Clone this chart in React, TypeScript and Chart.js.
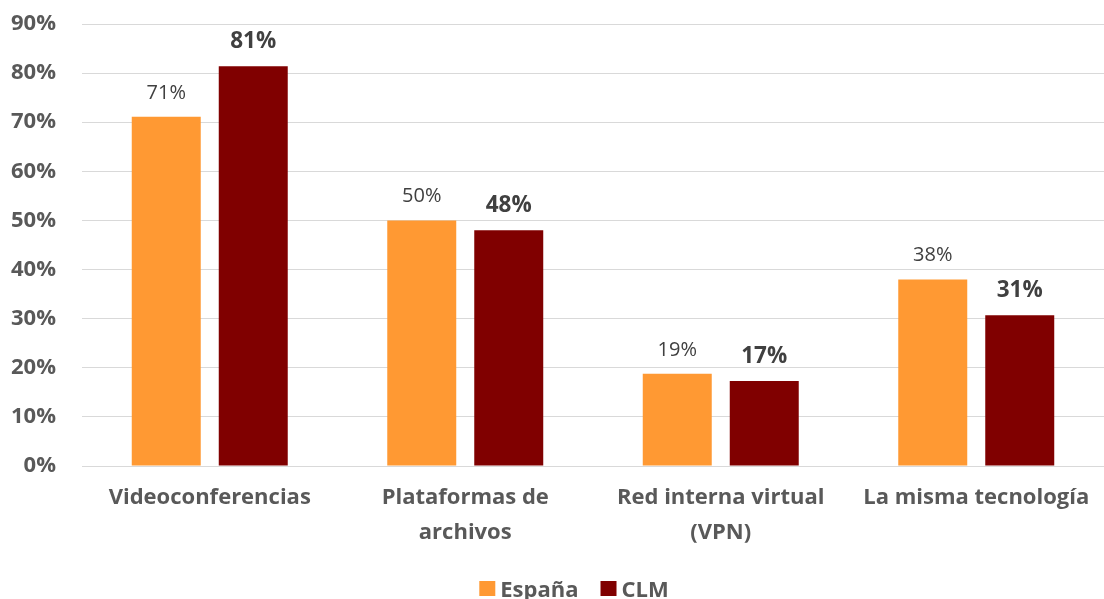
import React, { useEffect, useRef } from "react";
import { Chart, registerables } from "chart.js";

Chart.register(...registerables);

const categories: (string | string[])[] = [
  "Videoconferencias",
  ["Plataformas de", "archivos"],
  ["Red interna virtual", "(VPN)"],
  "La misma tecnología",
];
const espana = [71.1, 50.0, 18.8, 38.0];
const clm = [81.4, 48.0, 17.3, 30.7];
const seriesNames = ["España", "CLM"];
const seriesColors = ["#FF9933", "#800000"];
const yTicks = [0, 10, 20, 30, 40, 50, 60, 70, 80, 90];

const FONT = "'Open Sans', Lato, sans-serif";
const TEXT = "#595959";

const labelPlugin = {
  id: "valueLabels",
  afterDatasetsDraw(chart: any) {
    const ctx = chart.ctx;
    ctx.save();
    ctx.textAlign = "center";
    ctx.textBaseline = "alphabetic";
    ctx.fillStyle = "#404040";
    chart.data.datasets.forEach((ds: any, di: number) => {
      const meta = chart.getDatasetMeta(di);
      ctx.font = di === 1 ? `bold 22.5px ${FONT}` : `20px ${FONT}`;
      meta.data.forEach((bar: any, i: number) => {
        const v = ds.data[i];
        ctx.fillText(`${Math.round(v)}%`, bar.x, bar.y - 18);
      });
    });
    ctx.restore();
  },
};

const legendPlugin = {
  id: "customLegend",
  afterDraw(chart: any) {
    const ctx = chart.ctx;
    ctx.save();
    ctx.font = `bold 22px ${FONT}`;
    ctx.textBaseline = "alphabetic";
    const box = 16;
    const gapBoxText = 5;
    const gapItems = 22;
    const widths = seriesNames.map((n) => box + gapBoxText + ctx.measureText(n).width);
    const total = widths.reduce((a, b) => a + b, 0) + gapItems * (widths.length - 1);
    const cx = (chart.chartArea.left + chart.chartArea.right) / 2 - 19;
    let x = cx - total / 2;
    const baseline = chart.height - 2;
    seriesNames.forEach((n, i) => {
      ctx.fillStyle = seriesColors[i];
      ctx.fillRect(x, baseline - 16, box, 15);
      ctx.fillStyle = TEXT;
      ctx.fillText(n, x + box + gapBoxText, baseline);
      x += widths[i] + gapItems;
    });
    ctx.restore();
  },
};

export default function App() {
  const ref = useRef<HTMLCanvasElement>(null);
  useEffect(() => {
    if (!ref.current) return;
    const chart = new Chart(ref.current, {
      type: "bar",
      data: {
        labels: categories,
        datasets: [
          {
            label: seriesNames[0],
            data: espana,
            backgroundColor: seriesColors[0],
            categoryPercentage: 0.681,
            barPercentage: 0.793,
          },
          {
            label: seriesNames[1],
            data: clm,
            backgroundColor: seriesColors[1],
            categoryPercentage: 0.681,
            barPercentage: 0.793,
          },
        ],
      },
      options: {
        animation: false,
        responsive: false,
        layout: { padding: { top: 24, right: 0, bottom: 40, left: 0 } },
        plugins: {
          legend: { display: false },
          tooltip: { enabled: false },
        },
        scales: {
          x: {
            grid: { display: false, drawTicks: false },
            border: { display: true, color: "#D9D9D9", width: 1 },
            ticks: {
              color: TEXT,
              font: { family: FONT, size: 22, weight: "bold", lineHeight: 1.59 },
              padding: 14,
              maxRotation: 0,
              autoSkip: false,
            },
            afterFit: (s: any) => {
              s.height = 93;
              s.paddingLeft = 0;
              s.paddingRight = 0;
            },
          },
          y: {
            min: 0,
            max: 90,
            afterBuildTicks: (s: any) => {
              s.ticks = yTicks.map((v) => ({ value: v }));
            },
            grid: { color: "#D9D9D9", drawTicks: false, lineWidth: 1 },
            border: { display: false },
            ticks: {
              color: TEXT,
              font: { family: FONT, size: 22, weight: "bold" },
              padding: 26,
              callback: (v: any) => `${v}%`,
            },
            afterFit: (s: any) => {
              s.width = 82;
              s.paddingTop = 0;
              s.paddingBottom = 0;
            },
          },
        },
      },
      plugins: [labelPlugin, legendPlugin],
    });
    return () => chart.destroy();
  }, []);
  return (
    <div style={{ position: "absolute", left: 0, top: 0, width: 1104, height: 599, background: "#fff" }}>
      <canvas ref={ref} width={1104} height={599} />
    </div>
  );
}
